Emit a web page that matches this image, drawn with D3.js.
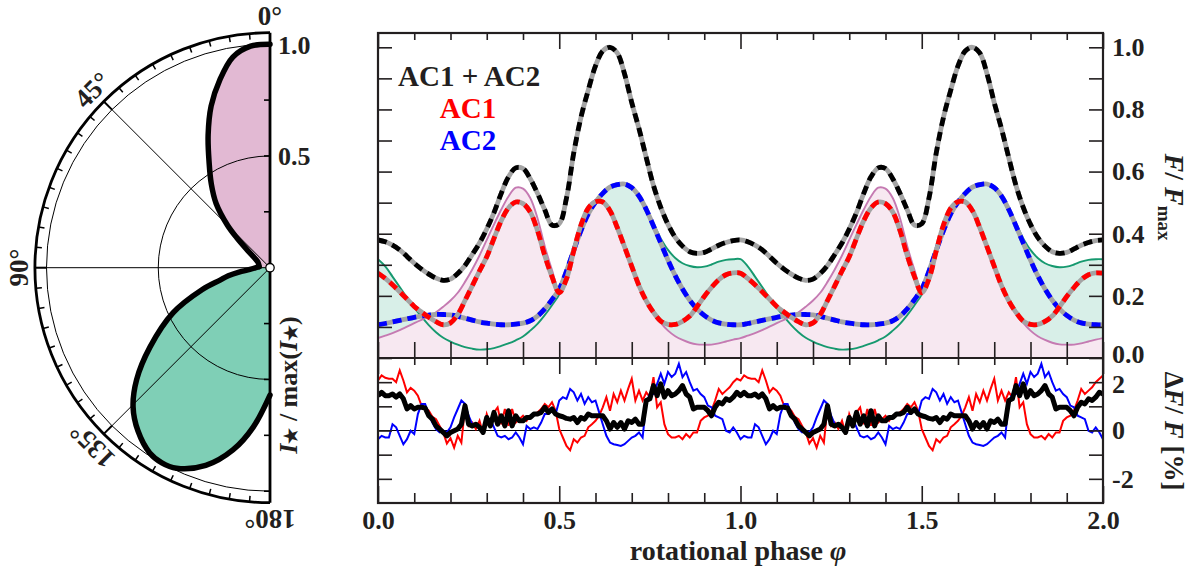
<!DOCTYPE html>
<html>
<head>
<meta charset="utf-8">
<script src="https://cdnjs.cloudflare.com/ajax/libs/d3/7.8.5/d3.min.js"></script>
<style>
  body { margin: 0; background: #fff; }
  svg { display: block; font-family: "Liberation Serif", "Times New Roman", serif; font-weight: bold; }
</style>
</head>
<body>
<svg id="chart" width="1192" height="572"></svg>
<script>
// ---------------- polar intensity profiles (angle in degrees, I*/max(I*)) ----------------
const lobeUpperAngle = [0, 5, 10, 15, 20, 25, 30, 35, 40, 45, 48, 52, 58, 65, 75, 85];
const lobeUpperI     = [1.0, 0.995, 0.957, 0.869, 0.77, 0.655, 0.545, 0.458, 0.375, 0.27, 0.2, 0.13, 0.08, 0.06, 0.052, 0.049];
const lobeLowerAngle = [85, 95, 98, 101, 104, 108, 115, 123.5, 130, 135.5, 141, 147, 151, 155, 162, 168.5, 174, 180];
const lobeLowerI     = [0.049, 0.09, 0.14, 0.19, 0.23, 0.32, 0.479, 0.644, 0.779, 0.874, 0.939, 0.988, 0.998, 0.99, 0.93, 0.832, 0.717, 0.57];
const polarRadialTicks = [0.5, 1.0];
const polarAngleLabels = [0, 45, 90, 135, 180];

// ---------------- light curves over one rotation (phase 0 .. 1, step 0.02) ----------------
const fluxTotal = [0.380,0.374,0.363,0.348,0.327,0.305,0.286,0.270,0.257,0.250,
                   0.254,0.272,0.298,0.333,0.370,0.415,0.468,0.530,0.583,0.612,
                   0.610,0.577,0.530,0.477,0.428,0.432,0.515,0.660,0.775,0.862,
                   0.940,0.988,1.000,0.982,0.915,0.822,0.738,0.645,0.555,0.485,
                   0.430,0.388,0.360,0.342,0.337,0.340,0.351,0.363,0.372,0.378,0.380];
const fluxAC1 = [0.273,0.256,0.236,0.213,0.190,0.166,0.148,0.131,0.117,0.107,
                 0.113,0.140,0.185,0.232,0.280,0.326,0.385,0.442,0.483,0.502,
                 0.497,0.470,0.410,0.330,0.262,0.210,0.255,0.345,0.428,0.482,
                 0.503,0.502,0.474,0.420,0.358,0.295,0.233,0.184,0.147,0.119,
                 0.108,0.108,0.118,0.135,0.165,0.198,0.227,0.252,0.268,0.274,0.273];
const fluxAC2 = [0.107,0.111,0.116,0.121,0.126,0.131,0.135,0.138,0.140,0.140,
                 0.139,0.134,0.128,0.122,0.116,0.112,0.109,0.107,0.107,0.109,
                 0.112,0.120,0.135,0.158,0.188,0.222,0.280,0.347,0.410,0.464,
                 0.502,0.530,0.550,0.558,0.560,0.548,0.521,0.478,0.425,0.370,
                 0.315,0.265,0.222,0.186,0.158,0.137,0.122,0.113,0.109,0.107,0.107];
const fluxUpperLobe = [0.064,0.072,0.080,0.090,0.101,0.112,0.123,0.134,0.147,0.165,
                       0.185,0.210,0.245,0.285,0.330,0.380,0.430,0.478,0.520,0.548,
                       0.545,0.515,0.450,0.360,0.283,0.219,0.258,0.347,0.430,0.485,
                       0.508,0.507,0.478,0.422,0.358,0.294,0.230,0.178,0.145,0.113,
                       0.088,0.070,0.058,0.049,0.044,0.043,0.043,0.047,0.053,0.059,0.064];
const fluxLowerLobe = [0.318,0.295,0.262,0.228,0.195,0.162,0.133,0.106,0.083,0.065,
                       0.053,0.043,0.035,0.030,0.027,0.028,0.032,0.039,0.047,0.057,
                       0.069,0.088,0.110,0.138,0.170,0.205,0.278,0.347,0.410,0.464,
                       0.502,0.530,0.550,0.558,0.560,0.548,0.522,0.480,0.432,0.385,
                       0.348,0.322,0.305,0.296,0.292,0.294,0.301,0.310,0.316,0.318,0.318];

// ---------------- residuals in percent over one rotation (phase 0 .. 1, step 0.01) ----------------
const residAC1 = [2.07,2.28,2.18,2.14,2.14,2.0,2.49,2.07,1.58,1.76,1.65,1.44,1.03,0.96,0.82,0.57,0.47,0.19,-0.08,-0.54,
                  -0.32,-0.71,-0.22,-0.5,0.96,0.19,0.33,0.06,0.40,-0.15,0.68,0.26,0.75,0.96,0.26,0.89,0.19,0.89,0.33,0.47,
                  0.61,0.40,0.61,0.68,0.75,0.89,1.10,0.96,1.17,0.82,0.06,
                  -0.29,-0.64,-0.82,-0.36,-0.5,-0.29,-0.22,0.13,0.26,0.40,0.61,0.96,1.38,0.82,1.51,1.17,1.65,1.24,1.72,2.14,
                  1.24,1.65,1.24,1.58,1.38,2.21,0.96,1.17,0.26,-0.15,-0.29,-0.29,-0.22,-0.36,-0.15,-0.29,-0.08,-0.08,0.40,0.54,
                  0.61,0.82,1.24,1.72,1.51,1.65,1.79,2.0,2.14,2.28];
const residAC2 = [-0.36,-0.22,-0.29,-0.29,0.26,0.13,-0.22,-0.57,-0.36,-0.01,-0.15,0.68,1.10,1.10,0.68,0.33,0.06,-0.08,-0.01,-0.08,
                  0.13,0.54,0.89,1.24,1.10,0.61,0.26,0.26,0.06,-0.01,0.33,0.47,0.13,-0.22,-0.29,-0.22,-0.36,-0.29,-0.08,-0.29,
                  -0.57,0.19,0.06,0.13,0.06,0.33,0.68,0.68,0.82,0.68,1.24,
                  1.38,1.31,1.72,1.58,1.24,1.51,1.10,1.38,1.17,1.24,0.75,0.26,-0.22,-0.5,-0.57,-0.6,-0.64,-0.57,-0.43,-0.29,
                  -0.22,-0.08,-0.29,1.17,1.51,1.51,1.93,2.35,1.93,2.42,2.21,2.35,2.76,2.21,2.42,2.0,1.65,1.72,1.51,1.38,
                  1.03,0.96,0.61,0.54,0.47,-0.01,-0.08,0.13,-0.08,-0.36];
const residTotal = [1.44,1.58,1.44,1.44,1.51,1.38,1.51,1.31,0.89,1.03,0.89,0.96,0.96,0.93,0.61,0.47,0.19,0.06,-0.08,-0.22,
                    -0.08,-0.01,0.06,0.26,1.03,0.26,0.19,0.26,0.13,-0.08,0.54,0.19,0.75,0.26,0.61,0.19,0.82,0.19,0.61,0.40,
                    0.40,0.54,0.54,0.68,0.68,0.75,0.96,0.75,0.89,0.68,0.61,
                    0.57,0.50,0.47,0.54,0.33,0.54,0.47,0.68,0.61,0.61,0.61,0.61,0.40,0.06,0.33,0.13,0.33,0.06,0.40,0.33,
                    0.47,0.26,0.26,1.24,1.31,1.86,1.44,1.93,1.38,1.65,1.44,1.51,1.65,1.86,1.51,1.38,0.89,0.96,0.96,0.96,
                    0.82,0.61,0.96,1.17,1.10,1.31,1.24,1.38,1.58,1.51];

// ---------------- tick values ----------------
const phaseLabels = [0, 0.5, 1.0, 1.5, 2.0];
const fluxLabels = [0, 0.2, 0.4, 0.6, 0.8, 1.0];
const residLabels = [-2, 0, 2];

// ---------------- colours ----------------
const C = {
  frame: "#231f20", gray: "#a4a4a4", red: "#ff0000", blue: "#0000ff",
  upperLine: "#c57ab2", upperFill: "#f7e8f1", lowerLine: "#16996f", lowerFill: "#d8efe8",
  polarUpper: "#e2b9d3", polarLower: "#7fcfb6"
};
const tickFont = 26;

const svg = d3.select("#chart");

// ======================= polar panel =======================
const pc = { x: 270, y: 267.7 };
const pr = d3.scaleLinear([0, 1], [0, 223.5]);
const outerR = 235;
const toRad = deg => -deg * Math.PI / 180;   // angles run counter-clockwise from the top
const pol = svg.append("g").attr("transform", `translate(${pc.x},${pc.y})`);

const radial = d3.lineRadial().angle(d => toRad(d.a)).radius(d => pr(d.r)).curve(d3.curveCatmullRom);
const upperPts = lobeUpperAngle.map((a, i) => ({ a, r: lobeUpperI[i] }));
const lowerPts = lobeLowerAngle.map((a, i) => ({ a, r: lobeLowerI[i] }));
const fan = pts => "M0,0" + radial(pts).replace(/^M/, "L") + "Z";

pol.append("path").attr("d", fan(upperPts)).attr("fill", C.polarUpper);
pol.append("path").attr("d", fan(lowerPts)).attr("fill", C.polarLower);

// half circles
function halfCircle(rad) {
  const p = d3.path();
  p.moveTo(0, -rad);
  p.arc(0, 0, rad, -Math.PI / 2, Math.PI / 2, true);
  return p.toString();
}
polarRadialTicks.forEach(v => {
  pol.append("path").attr("d", halfCircle(pr(v))).attr("fill", "none").attr("stroke", "#000").attr("stroke-width", 1);
});
pol.append("path").attr("d", halfCircle(outerR)).attr("fill", "none").attr("stroke", "#000").attr("stroke-width", 2.8);

// radial spokes at 45, 90, 135 degrees
[45, 90, 135].forEach(a => {
  const t = a * Math.PI / 180;
  pol.append("line").attr("x1", 0).attr("y1", 0)
    .attr("x2", -outerR * Math.sin(t)).attr("y2", -outerR * Math.cos(t))
    .attr("stroke", "#000").attr("stroke-width", 1);
});

// angle ticks every 5 degrees
d3.range(5, 180, 5).forEach(a => {
  const t = a * Math.PI / 180;
  const inner = a % 45 === 0 ? pr(1) : outerR - 6;
  pol.append("line")
    .attr("x1", -outerR * Math.sin(t)).attr("y1", -outerR * Math.cos(t))
    .attr("x2", -inner * Math.sin(t)).attr("y2", -inner * Math.cos(t))
    .attr("stroke", "#000").attr("stroke-width", a % 45 === 0 ? 2 : 1.5);
});

// lobe outlines
[upperPts, lowerPts].forEach(pts => {
  pol.append("path").attr("d", radial(pts)).attr("fill", "none").attr("stroke", "#000")
    .attr("stroke-width", 5.5).attr("stroke-linejoin", "round").attr("stroke-linecap", "round");
});

// vertical axis with ticks on both halves
pol.append("line").attr("x1", 0).attr("x2", 0).attr("y1", -outerR).attr("y2", outerR)
  .attr("stroke", "#000").attr("stroke-width", 2.8);
[0.25, 0.5, 0.75, 1.0].forEach(v => {
  [-1, 1].forEach(s => {
    pol.append("line").attr("x1", 0).attr("x2", -6).attr("y1", s * pr(v)).attr("y2", s * pr(v))
      .attr("stroke", "#000").attr("stroke-width", 1.6);
  });
});
pol.append("circle").attr("r", 4.2).attr("fill", "#fff").attr("stroke", "#000").attr("stroke-width", 1.3);

// radial value labels
polarRadialTicks.forEach(v => {
  pol.append("text").attr("x", 8).attr("y", -pr(v)).attr("dy", "0.36em")
    .attr("font-size", 26).attr("fill", C.frame).text(d3.format(".1f")(v));
});

// angle labels, turned to follow the rim
polarAngleLabels.forEach(a => {
  const t = a * Math.PI / 180, labelR = 252;
  pol.append("text")
    .attr("transform", `translate(${-labelR * Math.sin(t)},${-labelR * Math.cos(t)}) rotate(${-a})`)
    .attr("text-anchor", "middle").attr("dy", "0.36em")
    .attr("font-size", 27).attr("fill", C.frame).text(a + "°");
});

// polar axis title
const pt = svg.append("text").attr("transform", "translate(297,385) rotate(-90)")
  .attr("text-anchor", "middle").attr("font-size", 26).attr("fill", C.frame);
pt.append("tspan").attr("font-style", "italic").text("I");
pt.append("tspan").attr("font-size", 18).text("★");
pt.append("tspan").text(" / max(");
pt.append("tspan").attr("font-style", "italic").text("I");
pt.append("tspan").attr("font-size", 18).text("★");
pt.append("tspan").text(")");

// ======================= light-curve panels =======================
const L = 378, R = 1103, T = 33, M = 358, B = 503;
const x = d3.scaleLinear([0, 2], [L, R]);
const yF = d3.scaleLinear([0, 1.046], [M, T]);
const yR = d3.scaleLinear([-3, 3], [B, M]);

const curveGrid = d3.range(fluxTotal.length).map(i => i * 0.02);
const residGrid = d3.range(residTotal.length).map(i => i * 0.01);

// the rotation is periodic: phases 1..2 repeat the first rotation
function twoRotations(grid, values) {
  const out = [];
  for (let c = 0; c < 2; c++)
    for (let i = 0; i < values.length - 1; i++) out.push({ p: c + grid[i], v: values[i] });
  out.push({ p: 2, v: values[values.length - 1] });
  return out;
}

const defs = svg.append("defs");
defs.append("clipPath").attr("id", "clipTop").append("rect").attr("x", L).attr("y", T).attr("width", R - L).attr("height", M - T);
defs.append("clipPath").attr("id", "clipBot").append("rect").attr("x", L).attr("y", M).attr("width", R - L).attr("height", B - M);

const fluxG = svg.append("g").attr("clip-path", "url(#clipTop)");
const fArea = d3.area().x(d => x(d.p)).y0(yF(0)).y1(d => yF(d.v)).curve(d3.curveCatmullRom);
const fLine = d3.line().x(d => x(d.p)).y(d => yF(d.v)).curve(d3.curveCatmullRom);

const lowerSeries = twoRotations(curveGrid, fluxLowerLobe);
const upperSeries = twoRotations(curveGrid, fluxUpperLobe);
fluxG.append("path").attr("d", fArea(lowerSeries)).attr("fill", C.lowerFill);
fluxG.append("path").attr("d", fArea(upperSeries)).attr("fill", C.upperFill);
fluxG.append("path").attr("d", fLine(lowerSeries)).attr("fill", "none").attr("stroke", C.lowerLine).attr("stroke-width", 1.9);
fluxG.append("path").attr("d", fLine(upperSeries)).attr("fill", "none").attr("stroke", C.upperLine).attr("stroke-width", 1.9);

function dashedCurve(values, colour) {
  const d = fLine(twoRotations(curveGrid, values));
  fluxG.append("path").attr("d", d).attr("fill", "none").attr("stroke", C.gray).attr("stroke-width", 4.8);
  fluxG.append("path").attr("d", d).attr("fill", "none").attr("stroke", colour).attr("stroke-width", 4.8)
    .attr("stroke-dasharray", "9 6");
}
dashedCurve(fluxAC2, C.blue);
dashedCurve(fluxAC1, C.red);
dashedCurve(fluxTotal, "#000");

// residuals
const residG = svg.append("g").attr("clip-path", "url(#clipBot)");
residG.append("line").attr("x1", L).attr("x2", R).attr("y1", yR(0)).attr("y2", yR(0)).attr("stroke", "#000").attr("stroke-width", 1.2);
const rLine = d3.line().x(d => x(d.p)).y(d => yR(d.v));
residG.append("path").attr("d", rLine(twoRotations(residGrid, residAC1))).attr("fill", "none").attr("stroke", C.red).attr("stroke-width", 2);
residG.append("path").attr("d", rLine(twoRotations(residGrid, residAC2))).attr("fill", "none").attr("stroke", C.blue).attr("stroke-width", 2);
residG.append("path").attr("d", rLine(twoRotations(residGrid, residTotal))).attr("fill", "none").attr("stroke", "#000")
  .attr("stroke-width", 5).attr("stroke-linejoin", "round");

// ---------------- axes ----------------
const minorPhase = d3.range(0, 21).map(i => i / 10).filter(v => Math.round(v * 10) % 5 !== 0);
const majorPhase = phaseLabels;
const allPhase = d3.range(0, 21).map(i => i / 10);

function tickGroup(axis, tx, ty) {
  const g = svg.append("g").attr("transform", `translate(${tx},${ty})`).call(axis);
  g.select(".domain").remove();
  g.selectAll(".tick line").attr("stroke", C.frame).attr("stroke-width", 1.6);
  g.selectAll("text").attr("fill", C.frame);
  g.attr("font-family", null).attr("font-size", tickFont);
  return g;
}
const noLab = () => "";
// upper panel: top edge
tickGroup(d3.axisTop(x).tickValues(minorPhase).tickSize(-7).tickFormat(noLab), 0, T);
tickGroup(d3.axisTop(x).tickValues(majorPhase).tickSize(-16).tickFormat(noLab), 0, T);
// upper panel: bottom edge, ticks pointing up
tickGroup(d3.axisBottom(x).tickValues(allPhase).tickSize(-16).tickFormat(noLab), 0, M);
// lower panel: top edge, ticks pointing down
tickGroup(d3.axisTop(x).tickValues(minorPhase).tickSize(-7).tickFormat(noLab), 0, M);
tickGroup(d3.axisTop(x).tickValues(majorPhase).tickSize(-16).tickFormat(noLab), 0, M);
// lower panel: bottom edge
tickGroup(d3.axisBottom(x).tickValues(minorPhase).tickSize(-10).tickFormat(noLab), 0, B);
tickGroup(d3.axisBottom(x).tickValues(majorPhase).tickSize(-17).tickFormat(noLab), 0, B);
tickGroup(d3.axisBottom(x).tickValues(phaseLabels).tickSize(0).tickPadding(8).tickFormat(d3.format(".1f")), 0, B);

// flux axis ticks on both sides
const fluxTicks = d3.range(0, 11).map(i => i / 10);
tickGroup(d3.axisLeft(yF).tickValues(fluxTicks).tickSize(-14).tickFormat(noLab), L, 0);
tickGroup(d3.axisRight(yF).tickValues(fluxTicks).tickSize(-14).tickFormat(noLab), R, 0);
const fluxLab = tickGroup(d3.axisRight(yF).tickValues(fluxLabels).tickSize(0).tickPadding(9).tickFormat(d3.format(".1f")), R, 0);
// the 0.0 label sits on the panel seam; lift it slightly so it clears the residual scale
fluxLab.selectAll(".tick").filter(d => d === 0).select("text").attr("y", -4);

// residual axis ticks on both sides
const residTicks = [-2, -1, 0, 1, 2];
tickGroup(d3.axisLeft(yR).tickValues(residTicks).tickSize(-14).tickFormat(noLab), L, 0);
tickGroup(d3.axisRight(yR).tickValues(residTicks).tickSize(-14).tickFormat(noLab), R, 0);
const residLab = tickGroup(d3.axisRight(yR).tickValues(residLabels).tickSize(0).tickPadding(9).tickFormat(d => String(d)), R, 0);
residLab.selectAll(".tick").filter(d => d === 2).select("text").attr("y", 2);

// frames
svg.append("rect").attr("x", L).attr("y", T).attr("width", R - L).attr("height", B - T)
  .attr("fill", "none").attr("stroke", C.frame).attr("stroke-width", 2.2);
svg.append("line").attr("x1", L).attr("x2", R).attr("y1", M).attr("y2", M).attr("stroke", C.frame).attr("stroke-width", 2.2);

// ---------------- titles and legend ----------------
const xt = svg.append("text").attr("x", 738).attr("y", 560).attr("text-anchor", "middle").attr("font-size", 28).attr("fill", C.frame);
xt.append("tspan").text("rotational phase ");
xt.append("tspan").attr("font-style", "italic").text("φ");

const yt = svg.append("text").attr("transform", "translate(1165,197) rotate(90)").attr("text-anchor", "middle")
  .attr("font-size", 28).attr("fill", C.frame);
yt.append("tspan").attr("font-style", "italic").text("F");
yt.append("tspan").text("/ ");
yt.append("tspan").attr("font-style", "italic").text("F");
yt.append("tspan").attr("font-size", 19).attr("dy", "0.35em").text("max");

const rt = svg.append("text").attr("transform", "translate(1165,431) rotate(90)").attr("text-anchor", "middle")
  .attr("font-size", 27).attr("fill", C.frame);
rt.append("tspan").text("Δ");
rt.append("tspan").attr("font-style", "italic").text("F");
rt.append("tspan").text("/ ");
rt.append("tspan").attr("font-style", "italic").text("F");
rt.append("tspan").text(" [%]");

svg.append("text").attr("x", 398).attr("y", 86).attr("font-size", 29).attr("fill", C.frame).text("AC1 + AC2");
svg.append("text").attr("x", 468).attr("y", 118).attr("text-anchor", "middle").attr("font-size", 29).attr("fill", C.red).text("AC1");
svg.append("text").attr("x", 468).attr("y", 150).attr("text-anchor", "middle").attr("font-size", 29).attr("fill", C.blue).text("AC2");
</script>
</body>
</html>
